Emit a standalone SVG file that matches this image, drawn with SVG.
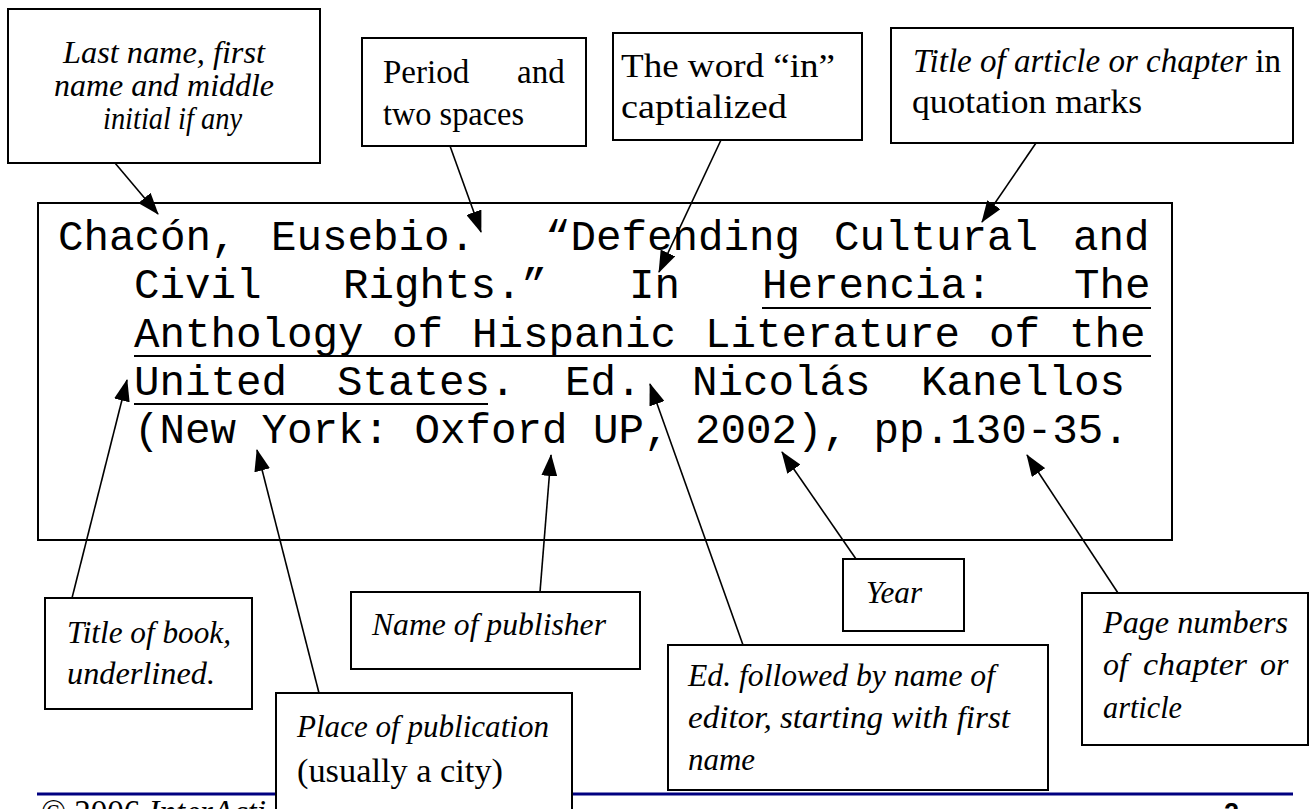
<svg xmlns="http://www.w3.org/2000/svg" width="1310" height="809" viewBox="0 0 1310 809">
<defs>
<marker id="ah" markerUnits="userSpaceOnUse" markerWidth="22" markerHeight="16" refX="21" refY="8" orient="auto">
<path d="M0,0 L22,8 L0,16 z" fill="#000"/>
</marker>
</defs>
<style>
.box{fill:#fff;stroke:#000;stroke-width:2}
.it{font-family:"Liberation Serif","Times New Roman",serif;font-style:italic;font-size:32px;fill:#000}
.rg{font-family:"Liberation Serif","Times New Roman",serif;font-size:33px;fill:#000}
.mono{font-family:"Liberation Mono","Courier New",monospace;font-size:42.5px;fill:#000}
.ul{stroke:#000;stroke-width:2}
.con{stroke:#000;stroke-width:1.6;fill:none;marker-end:url(#ah)}
</style>
<rect width="1310" height="809" fill="#fff"/>

<g id="footer">
<line x1="37" y1="794" x2="1293" y2="794" stroke="#000080" stroke-width="3"/>
<text x="41" y="823" class="rg" font-size="30">© 2006 <tspan font-style="italic">InterActi</tspan></text>
<text x="1224" y="822" font-family="Liberation Sans, Arial, sans-serif" font-weight="bold" font-size="27">2</text>
</g>

<g id="citation">
<rect class="box" x="38" y="203" width="1134" height="337"/>
<text class="mono" y="250"><tspan x="58">Chacón,</tspan><tspan x="271">Eusebio.</tspan><tspan x="545">“Defending</tspan><tspan x="834">Cultural</tspan><tspan x="1073">and</tspan></text>
<text class="mono" y="298"><tspan x="134">Civil</tspan><tspan x="343">Rights.”</tspan><tspan x="629">In</tspan><tspan x="762">Herencia:</tspan><tspan x="1074">The</tspan></text>
<text class="mono" y="347"><tspan x="134">Anthology</tspan><tspan x="392">of</tspan><tspan x="472">Hispanic</tspan><tspan x="705">Literature</tspan><tspan x="989">of</tspan><tspan x="1069">the</tspan></text>
<text class="mono" y="395"><tspan x="134">United</tspan><tspan x="337">States.</tspan><tspan x="565">Ed.</tspan><tspan x="692">Nicolás</tspan><tspan x="921">Kanellos</tspan></text>
<text class="mono" x="134" y="443">(New York: Oxford UP, 2002), pp.130-35.</text>
<line class="ul" x1="762" y1="308" x2="1151" y2="308"/>
<line class="ul" x1="134" y1="356" x2="1151" y2="356"/>
<line class="ul" x1="134" y1="404" x2="488" y2="404"/>
</g>

<g id="connectors">
<line class="con" x1="115" y1="163" x2="158" y2="214"/>
<line class="con" x1="450" y1="146" x2="481" y2="232"/>
<line class="con" x1="721" y1="140" x2="659" y2="272"/>
<line class="con" x1="1036" y1="143" x2="982" y2="222"/>
<line class="con" x1="72" y1="598" x2="127" y2="380"/>
<line class="con" x1="319" y1="693" x2="257" y2="450"/>
<line class="con" x1="540" y1="592" x2="551" y2="455"/>
<line class="con" x1="743" y1="645" x2="650" y2="384"/>
<line class="con" x1="856" y1="559" x2="782" y2="452"/>
<line class="con" x1="1118" y1="593" x2="1027" y2="455"/>
</g>

<g id="n-lastname">
<rect class="box" x="8" y="9" width="312" height="154"/>
<text class="it" x="63" y="63" textLength="202" lengthAdjust="spacingAndGlyphs">Last name, first</text>
<text class="it" x="54" y="96" textLength="220" lengthAdjust="spacingAndGlyphs">name and middle</text>
<text class="it" x="103" y="129" textLength="139" lengthAdjust="spacingAndGlyphs">initial if any</text>
</g>

<g id="n-period">
<rect class="box" x="362" y="38" width="224" height="108"/>
<text class="rg" y="83"><tspan x="383">Period</tspan><tspan x="517">and</tspan></text>
<text class="rg" x="383" y="125" textLength="141" lengthAdjust="spacingAndGlyphs">two spaces</text>
</g>

<g id="n-in">
<rect class="box" x="613" y="33" width="249" height="107"/>
<text class="rg" x="621" y="77" textLength="214" lengthAdjust="spacingAndGlyphs">The word “in”</text>
<text class="rg" x="621" y="118" textLength="166" lengthAdjust="spacingAndGlyphs">captialized</text>
</g>

<g id="n-title">
<rect class="box" x="891" y="28" width="402" height="115"/>
<text class="rg" x="913" y="72" textLength="368" lengthAdjust="spacingAndGlyphs"><tspan font-style="italic">Title of article or chapter</tspan> in</text>
<text class="rg" x="912" y="113" textLength="230" lengthAdjust="spacingAndGlyphs">quotation marks</text>
</g>

<g id="n-book">
<rect class="box" x="45" y="598" width="207" height="111"/>
<text class="it" x="67" y="643" textLength="164" lengthAdjust="spacingAndGlyphs">Title of book,</text>
<text class="it" x="67" y="684" textLength="148" lengthAdjust="spacingAndGlyphs">underlined.</text>
</g>

<g id="n-publisher">
<rect class="box" x="351" y="592" width="289" height="77"/>
<text class="it" x="372" y="635" textLength="234" lengthAdjust="spacingAndGlyphs">Name of publisher</text>
</g>

<g id="n-year">
<rect class="box" x="843" y="559" width="121" height="72"/>
<text class="it" x="866" y="603" textLength="56" lengthAdjust="spacingAndGlyphs">Year</text>
</g>

<g id="n-pages">
<rect class="box" x="1082" y="593" width="226" height="152"/>
<text class="it" x="1103" y="633" textLength="185" lengthAdjust="spacingAndGlyphs">Page numbers</text>
<text class="it" y="675"><tspan x="1103">of</tspan><tspan x="1143" textLength="104" lengthAdjust="spacingAndGlyphs">chapter</tspan><tspan x="1260">or</tspan></text>
<text class="it" x="1103" y="718" textLength="79" lengthAdjust="spacingAndGlyphs">article</text>
</g>

<g id="n-editor">
<rect class="box" x="668" y="645" width="380" height="145"/>
<text class="it" x="688" y="686" textLength="307" lengthAdjust="spacingAndGlyphs">Ed. followed by name of</text>
<text class="it" x="688" y="728" textLength="322" lengthAdjust="spacingAndGlyphs">editor, starting with first</text>
<text class="it" x="688" y="770" textLength="67" lengthAdjust="spacingAndGlyphs">name</text>
</g>

<g id="n-place">
<rect class="box" x="276" y="693" width="296" height="140"/>
<text class="it" x="297" y="737" textLength="252" lengthAdjust="spacingAndGlyphs">Place of publication</text>
<text class="rg" x="297" y="782" textLength="206" lengthAdjust="spacingAndGlyphs">(usually a city)</text>
</g>
</svg>
